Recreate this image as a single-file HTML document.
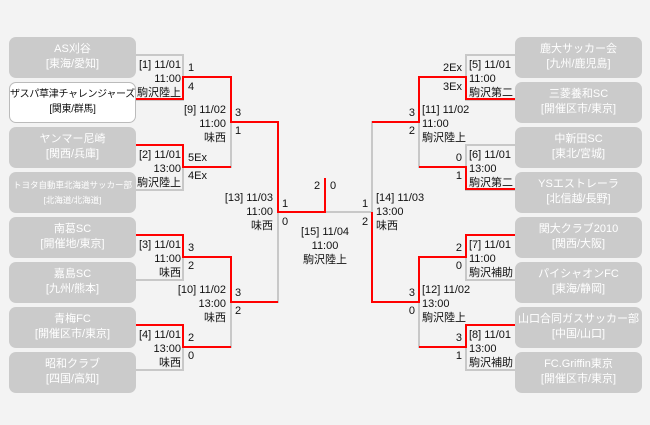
<!DOCTYPE html>
<html><head><meta charset="utf-8"><style>
body{margin:0;width:650px;height:425px;background:#f3f3f3;position:relative;overflow:hidden;font-family:"Liberation Sans","Noto Sans CJK JP",sans-serif;font-size:11px;color:#111}
.b{position:absolute;width:127px;height:41px;border-radius:7px;background:#cbcbcb;color:#fff;text-align:center;font-size:11px;line-height:15px;box-sizing:border-box;padding-top:5px;white-space:nowrap;overflow:hidden}
.w{background:#fff;border:1px solid #bbb;color:#111;padding-top:4px}
.t{position:absolute;line-height:14px;white-space:nowrap;font-size:11px}
.r{text-align:right}
svg{position:absolute;left:0;top:0}
</style></head><body>
<svg width="650" height="425" fill="none" stroke-width="2">
<g stroke="#c8c8c8">
<path d="M136 55H183V100H136M136 145H183V190H136M136 235H183V280H136M136 325H183V370H136"/>
<path d="M183 77H231V167H183M183 257H231V347H183M231 122H278V302H231M278 212H372"/>
<path d="M515 55H466V100H515M515 145H466V190H515M515 235H466V280H515M515 325H466V370H515"/>
<path d="M466 77H419V167H466M466 257H419V347H466M419 122H372V302H419"/>
</g>
<g stroke="#f00">
<path d="M136 99H183V77H231V122H278V212H325V178"/>
<path d="M136 145H183V167H231"/>
<path d="M136 235H183V257H231V302H278"/>
<path d="M136 325H183V347H231"/>
<path d="M515 99H466V77H419V122H372"/>
<path d="M515 189H466V167H419"/>
<path d="M515 235H466V257H419V302H372V212"/>
<path d="M515 325H466V347H419"/>
</g>
</svg>
<div class="b" style="left:9px;top:37px">AS刈谷<br>[東海/愛知]</div>
<div class="b w" style="left:9px;top:82px;font-size:10px;letter-spacing:-0.3px">ザスパ草津チャレンジャーズ<br>[関東/群馬]</div>
<div class="b" style="left:9px;top:127px">ヤンマー尼崎<br>[関西/兵庫]</div>
<div class="b" style="left:9px;top:172px;font-size:8.5px;line-height:15px;padding-top:6px">トヨタ自動車北海道サッカー部<br>[北海道/北海道]</div>
<div class="b" style="left:9px;top:217px">南葛SC<br>[開催地/東京]</div>
<div class="b" style="left:9px;top:262px">嘉島SC<br>[九州/熊本]</div>
<div class="b" style="left:9px;top:307px">青梅FC<br>[開催区市/東京]</div>
<div class="b" style="left:9px;top:352px">昭和クラブ<br>[四国/高知]</div>
<div class="b" style="left:515px;top:37px">鹿大サッカー会<br>[九州/鹿児島]</div>
<div class="b" style="left:515px;top:82px">三菱養和SC<br>[開催区市/東京]</div>
<div class="b" style="left:515px;top:127px">中新田SC<br>[東北/宮城]</div>
<div class="b" style="left:515px;top:172px">YSエストレーラ<br>[北信越/長野]</div>
<div class="b" style="left:515px;top:217px">関大クラブ2010<br>[関西/大阪]</div>
<div class="b" style="left:515px;top:262px">パイシャオンFC<br>[東海/静岡]</div>
<div class="b" style="left:515px;top:307px">山口合同ガスサッカー部<br>[中国/山口]</div>
<div class="b" style="left:515px;top:352px">FC.Griffin東京<br>[開催区市/東京]</div>

<div class="t r" style="right:469px;top:58px">[1] 11/01<br>11:00<br>駒沢陸上</div>
<div class="t r" style="right:469px;top:148px">[2] 11/01<br>13:00<br>駒沢陸上</div>
<div class="t r" style="right:469px;top:238px">[3] 11/01<br>11:00<br>味西</div>
<div class="t r" style="right:469px;top:328px">[4] 11/01<br>13:00<br>味西</div>
<div class="t" style="left:188px;top:61px">1</div><div class="t" style="left:188px;top:80px">4</div>
<div class="t" style="left:188px;top:151px">5Ex</div><div class="t" style="left:188px;top:169px">4Ex</div>
<div class="t" style="left:188px;top:241px">3</div><div class="t" style="left:188px;top:259px">2</div>
<div class="t" style="left:188px;top:331px">2</div><div class="t" style="left:188px;top:349px">0</div>
<div class="t r" style="right:424px;top:103px">[9] 11/02<br>11:00<br>味西</div>
<div class="t r" style="right:424px;top:283px">[10] 11/02<br>13:00<br>味西</div>
<div class="t" style="left:235px;top:106px">3</div><div class="t" style="left:235px;top:124px">1</div>
<div class="t" style="left:235px;top:286px">3</div><div class="t" style="left:235px;top:304px">2</div>
<div class="t r" style="right:377px;top:191px">[13] 11/03<br>11:00<br>味西</div>
<div class="t" style="left:282px;top:197px">1</div><div class="t" style="left:282px;top:215px">0</div>
<div class="t" style="left:376px;top:191px">[14] 11/03<br>13:00<br>味西</div>
<div class="t" style="left:362px;top:197px">1</div><div class="t" style="left:362px;top:215px">2</div>
<div class="t" style="left:314px;top:179px">2</div><div class="t" style="left:330px;top:179px">0</div>
<div class="t" style="left:275px;top:225px;width:100px;text-align:center">[15] 11/04<br>11:00<br>駒沢陸上</div>
<div class="t" style="left:422px;top:103px">[11] 11/02<br>11:00<br>駒沢陸上</div>
<div class="t" style="left:422px;top:283px">[12] 11/02<br>13:00<br>駒沢陸上</div>
<div class="t r" style="right:235px;top:106px">3</div><div class="t r" style="right:235px;top:124px">2</div>
<div class="t r" style="right:235px;top:286px">3</div><div class="t r" style="right:235px;top:304px">0</div>
<div class="t" style="left:469px;top:58px">[5] 11/01<br>11:00<br>駒沢第二</div>
<div class="t" style="left:469px;top:148px">[6] 11/01<br>13:00<br>駒沢第二</div>
<div class="t" style="left:469px;top:238px">[7] 11/01<br>11:00<br>駒沢補助</div>
<div class="t" style="left:469px;top:328px">[8] 11/01<br>13:00<br>駒沢補助</div>
<div class="t r" style="right:188px;top:61px">2Ex</div><div class="t r" style="right:188px;top:80px">3Ex</div>
<div class="t r" style="right:188px;top:151px">0</div><div class="t r" style="right:188px;top:169px">1</div>
<div class="t r" style="right:188px;top:241px">2</div><div class="t r" style="right:188px;top:259px">0</div>
<div class="t r" style="right:188px;top:331px">3</div><div class="t r" style="right:188px;top:349px">1</div>
</body></html>
